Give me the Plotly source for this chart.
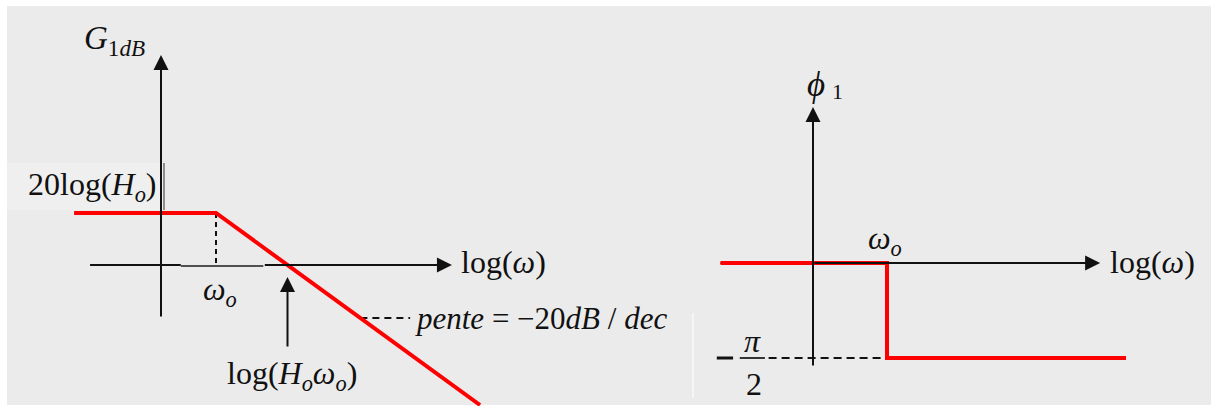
import math
import plotly.graph_objects as go

# ---------------------------------------------------------------
# Asymptotic Bode diagrams of a first-order low-pass H(jw)
# x values are in decades of log(w), gain in dB, phase in radians
# ---------------------------------------------------------------
LOG_W0 = 1.0          # log(wo)
G0_DB = 26.0          # 20log(Ho)
SLOPE_DB_DEC = -20.0  # pente
LOG_HOW0 = LOG_W0 - G0_DB / SLOPE_DB_DEC   # log(Ho wo): 0 dB crossing

# gain asymptote
gain_logw = [-1.58, LOG_W0, 5.8]
gain_db = [G0_DB, G0_DB, G0_DB + SLOPE_DB_DEC * (5.8 - LOG_W0)]

# phase asymptote
phase_logw = [-1.25, LOG_W0, LOG_W0, 4.23]
phase_rad = [0.0, 0.0, -math.pi / 2, -math.pi / 2]

# axis spans (tail, tip)
gain_haxis = [-1.29, 5.29]      # along log(w), at 0 dB
gain_vaxis = [-26.5, 105.0]     # along dB, at log(w)=0
phase_haxis = [-1.25, 3.88]     # along log(w), at 0 rad
phase_vaxis = [-1.72, 2.58]     # along rad, at log(w)=0

# helper lines
slope_note_db = -26.5
slope_note_logw = [LOG_W0 + (slope_note_db - G0_DB) / SLOPE_DB_DEC, 4.53]
crossing_arrow_db = [-41.5, -6.0]
phase_dash_logw = [-0.6, LOG_W0]

# ---------------------------------------------------------------
W, H = 1213, 406
# pixel anchors of the two diagrams (origin and scale)
L_X0, L_Y0, L_SX, L_SY = 161.0, 265.0, 55.0, 2.0
R_X0, R_Y0, R_SX, R_SY = 813.0, 263.0, 74.0, 95.0 / (math.pi / 2)

left_xr = [-L_X0 / L_SX, (W - L_X0) / L_SX]
left_yr = [(L_Y0 - H) / L_SY, L_Y0 / L_SY]
right_xr = [-R_X0 / R_SX, (W - R_X0) / R_SX]
right_yr = [(R_Y0 - H) / R_SY, R_Y0 / R_SY]

SERIF = "Liberation Serif, Times New Roman, serif"
INK = "#111111"
RED = "#ff0000"

fig = go.Figure()

# left diagram: axis pieces without arrowheads
fig.add_trace(go.Scatter(x=[gain_haxis[0], 0.36], y=[0, 0], mode="lines",
                         line=dict(color=INK, width=2), xaxis="x", yaxis="y",
                         hoverinfo="skip"))
fig.add_trace(go.Scatter(x=[0.36, 1.86], y=[-0.5, -0.5], mode="lines",
                         line=dict(color="#505050", width=2), xaxis="x", yaxis="y",
                         hoverinfo="skip"))
fig.add_trace(go.Scatter(x=[LOG_W0, LOG_W0], y=[G0_DB, 0], mode="lines",
                         line=dict(color=INK, width=2, dash="5px,4px"),
                         xaxis="x", yaxis="y", hoverinfo="skip"))
fig.add_trace(go.Scatter(x=slope_note_logw, y=[slope_note_db] * 2, mode="lines",
                         line=dict(color=INK, width=2, dash="7px,5px"),
                         xaxis="x", yaxis="y", hoverinfo="skip"))
fig.add_trace(go.Scatter(x=gain_logw, y=gain_db, mode="lines",
                         line=dict(color=RED, width=4), xaxis="x", yaxis="y",
                         hoverinfo="skip"))

# right diagram
fig.add_trace(go.Scatter(x=[phase_haxis[0], 0], y=[0, 0], mode="lines",
                         line=dict(color=INK, width=2), xaxis="x2", yaxis="y2",
                         hoverinfo="skip"))
fig.add_trace(go.Scatter(x=phase_dash_logw, y=[-math.pi / 2] * 2, mode="lines",
                         line=dict(color=INK, width=2, dash="8px,5px"),
                         xaxis="x2", yaxis="y2", hoverinfo="skip"))
fig.add_trace(go.Scatter(x=[-0.99, -0.65], y=[-math.pi / 2] * 2, mode="lines",
                         line=dict(color="#333333", width=2),
                         xaxis="x2", yaxis="y2", hoverinfo="skip"))
fig.add_trace(go.Scatter(x=[-1.30, -1.08], y=[-math.pi / 2] * 2, mode="lines",
                         line=dict(color=INK, width=3),
                         xaxis="x2", yaxis="y2", hoverinfo="skip"))
fig.add_trace(go.Scatter(x=phase_logw, y=phase_rad, mode="lines",
                         line=dict(color=RED, width=4), xaxis="x2", yaxis="y2",
                         hoverinfo="skip"))

annotations = []


def arrow(x, y, ax, ay, xr, yr):
    annotations.append(dict(x=x, y=y, ax=ax, ay=ay, xref=xr, yref=yr,
                            axref=xr, ayref=yr, text="", showarrow=True,
                            arrowhead=2, arrowsize=1.5, arrowwidth=2,
                            arrowcolor=INK, standoff=0, startstandoff=0))


def label(text, x, y, xr, yr, size=32, xanchor="center", yanchor="middle"):
    annotations.append(dict(x=x, y=y, xref=xr, yref=yr, text=text,
                            showarrow=False, xanchor=xanchor, yanchor=yanchor,
                            font=dict(family=SERIF, size=size, color=INK)))


# axes with arrowheads
arrow(gain_haxis[1], 0, 1.86, 0, "x", "y")
arrow(0, gain_vaxis[1], 0, gain_vaxis[0], "x", "y")
arrow(LOG_HOW0, crossing_arrow_db[1], LOG_HOW0, crossing_arrow_db[0], "x", "y")
arrow(phase_haxis[1], 0, 0, 0, "x2", "y2")
arrow(0, phase_vaxis[1], 0, phase_vaxis[0], "x2", "y2")

# left labels
label("<i>G</i><sub>1<i>dB</i></sub>", -0.84, 112.5, "x", "y", size=33)
label("20log(<i>H</i><sub><i>o</i></sub>)", -0.03, 39.5, "x", "y", xanchor="right")
label("<i>ω</i><sub><i>o</i></sub>", LOG_W0 + 0.07, -13.0, "x", "y")
label("log(<i>H</i><sub><i>o</i></sub><i>ω</i><sub><i>o</i></sub>)", LOG_HOW0 + 0.08,
      -55.0, "x", "y")
label("log(<i>ω</i>)", 5.42, 1.5, "x", "y", xanchor="left")
label("<i>pente</i> = −20<i>dB</i> / <i>dec</i>", 4.58, slope_note_db, "x", "y",
      size=31, xanchor="left")

# right labels
label("<i>ϕ</i>", 0.04, 2.95, "x2", "y2", size=35)
label("1", 0.33, 2.84, "x2", "y2", size=22)
label("<i>ω</i><sub><i>o</i></sub>", LOG_W0 - 0.03, 0.38, "x2", "y2")
label("log(<i>ω</i>)", 3.99, 0.02, "x2", "y2", xanchor="left")
label("<i>π</i>", -0.82, -1.29, "x2", "y2", size=32)
label("2", -0.8, -2.0, "x2", "y2", size=32)


def box(x0, y0, x1, y1, color):
    return dict(type="rect", xref="paper", yref="paper",
                x0=x0 / W, x1=x1 / W, y0=1 - y1 / H, y1=1 - y0 / H,
                fillcolor=color, line=dict(width=0), layer="below")


def seg(x0, y0, x1, y1, color, width=1):
    return dict(type="line", xref="paper", yref="paper",
                x0=x0 / W, x1=x1 / W, y0=1 - y0 / H, y1=1 - y1 / H,
                line=dict(color=color, width=width), layer="below")


shapes = [
    box(7, 6, 1211, 405, "#ebebeb"),
    box(7, 163, 163, 210, "#efefef"),
    seg(164, 163, 164, 210, "#333333", 1),
    seg(693, 313, 693, 398, "#ffffff", 1),
]

fig.update_layout(
    width=W, height=H,
    margin=dict(l=0, r=0, t=0, b=0),
    paper_bgcolor="#ffffff",
    plot_bgcolor="rgba(0,0,0,0)",
    showlegend=False,
    xaxis=dict(range=left_xr, visible=False, domain=[0, 1], fixedrange=True),
    yaxis=dict(range=left_yr, visible=False, domain=[0, 1], fixedrange=True),
    xaxis2=dict(range=right_xr, visible=False, domain=[0, 1], overlaying="x",
                fixedrange=True),
    yaxis2=dict(range=right_yr, visible=False, domain=[0, 1], overlaying="y",
                fixedrange=True),
    annotations=annotations,
    shapes=shapes,
)

fig.write_html("out.html", config={"displayModeBar": False})
